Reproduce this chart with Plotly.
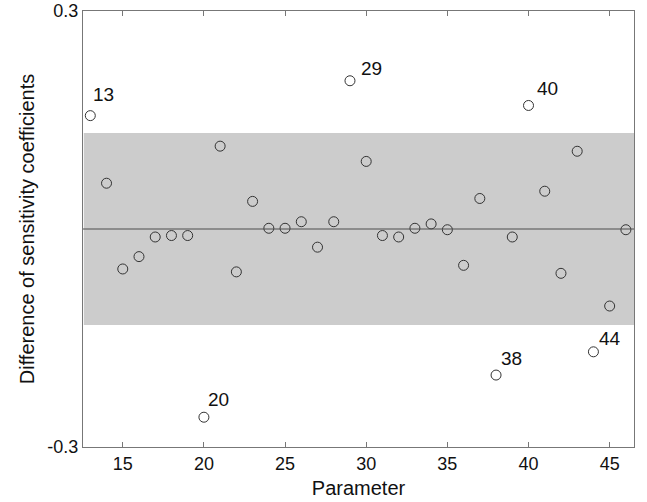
import plotly.graph_objects as go

parameters = list(range(13, 47))
differences = [0.156, 0.063, -0.055, -0.038, -0.011, -0.009, -0.009, -0.259, 0.114, -0.059,
               0.038, 0.001, 0.001, 0.010, -0.025, 0.010, 0.204, 0.093, -0.009, -0.011,
               0.001, 0.007, -0.001, -0.050, 0.042, -0.201, -0.011, 0.170, 0.052, -0.061,
               0.107, -0.169, -0.106, -0.001]
labelled = [13, 20, 29, 38, 40, 44]
band_low, band_high = -0.132, 0.132
x_ticks = [15, 20, 25, 30, 35, 40, 45]
y_ticks = [-0.3, 0.3]
x_range = [12.55, 46.5]
y_range = [-0.3, 0.3]

# pixel offsets of the point labels (styling)
label_shift = {13: (13, 21), 20: (15, 18), 29: (22, 12), 38: (15, 17), 40: (19, 17), 44: (17, 13)}

fig = go.Figure()
fig.add_shape(type="rect", xref="x", yref="y", x0=12.6, x1=x_range[1], y0=band_low, y1=band_high,
              fillcolor="#cccccc", line=dict(width=0), layer="below")
fig.add_shape(type="line", xref="paper", yref="y", x0=0, x1=1, y0=0, y1=0,
              line=dict(color="#4d4d4d", width=1.2), layer="above")
fig.add_trace(go.Scatter(x=parameters, y=differences, mode="markers",
                         marker=dict(symbol="circle-open", size=10, color="#333333",
                                     line=dict(width=1, color="#333333")),
                         showlegend=False, hoverinfo="x+y"))
for p in labelled:
    v = differences[parameters.index(p)]
    dx, dy = label_shift[p]
    fig.add_annotation(x=p, y=v, text=str(p), showarrow=False, xshift=dx, yshift=dy,
                       font=dict(size=19, color="#111111", family="Liberation Sans, Arial"))

fig.update_layout(
    width=647, height=502,
    margin=dict(l=83, r=13, t=11, b=55),
    plot_bgcolor="white", paper_bgcolor="white",
    font=dict(family="Liberation Sans, Arial", size=18, color="#111111"),
)
fig.update_xaxes(range=x_range, tickvals=x_ticks, ticks="inside", ticklen=5, tickcolor="#777777",
                 showline=True, linecolor="#777777", linewidth=1, mirror="ticks", showgrid=False,
                 zeroline=False, automargin=False,
                 title=dict(text="Parameter", standoff=8, font=dict(size=20)),
                 tickfont=dict(size=18))
fig.update_yaxes(range=y_range, tickvals=y_ticks, ticktext=["-0.3", "0.3"], ticks="", showline=True,
                 linecolor="#777777", linewidth=1, mirror=True, showgrid=False, zeroline=False,
                 automargin=False,
                 title=dict(text="Difference of sensitivity coefficients", standoff=7, font=dict(size=20)),
                 tickfont=dict(size=18))

fig.write_html("out.html", config={"displayModeBar": False},
               post_script="document.body.style.margin='0';document.body.style.overflow='hidden';")
